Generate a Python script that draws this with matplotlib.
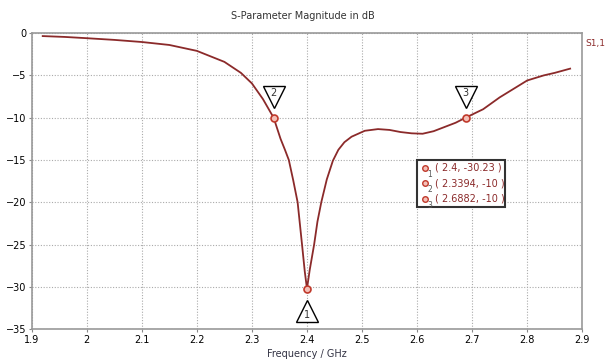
import matplotlib.pyplot as plt
from matplotlib.patches import Rectangle
from matplotlib.transforms import offset_copy

# S11 curve
freq = [1.92, 1.96, 2.0, 2.05, 2.1, 2.15, 2.2, 2.25, 2.28, 2.3, 2.32, 2.3394, 2.352, 2.36,
        2.367, 2.375, 2.383, 2.391, 2.396, 2.4, 2.405, 2.413, 2.419, 2.426, 2.436, 2.447,
        2.457, 2.468, 2.481, 2.505, 2.529, 2.55, 2.57, 2.59, 2.61, 2.63, 2.65, 2.67, 2.6882,
        2.72, 2.75, 2.78, 2.8, 2.83, 2.85, 2.878]
s11 = [-0.35, -0.45, -0.6, -0.8, -1.05, -1.4, -2.1, -3.4, -4.7, -5.95, -7.8, -10, -12.5, -13.8,
       -15, -17.4, -20, -25, -28.2, -30.23, -28.0, -25, -22.3, -20, -17.3, -15.1,
       -13.8, -12.9, -12.25, -11.55, -11.35, -11.45, -11.7, -11.85, -11.9, -11.6, -11.1, -10.6, -10,
       -9.0, -7.6, -6.4, -5.6, -5.0, -4.7, -4.2]

mark_f = [2.4, 2.3394, 2.6882]
mark_v = [-30.23, -10, -10]
mark_id = ["1", "2", "3"]

line_col = "#8b2a2a"
mark_col = "#c0392b"

fig = plt.figure(figsize=(6.05, 3.64), dpi=100)
ax = fig.add_axes([0.0524, 0.096, 0.910, 0.813])

ax.plot(freq, s11, color=line_col, lw=1.3, zorder=3)

ax.set_xlim(1.9, 2.9)
ax.set_ylim(-35, 0)
ax.set_xticks([1.9 + 0.1 * i for i in range(11)])
ax.set_xticklabels(["1.9", "2", "2.1", "2.2", "2.3", "2.4", "2.5", "2.6", "2.7", "2.8", "2.9"])
ax.set_yticks(range(-35, 1, 5))
ax.grid(True, color="#aaaaaa", ls=(0, (1, 1.5)), lw=0.8)
ax.tick_params(labelsize=7, length=2, color="#888888", pad=2)
for s in ax.spines.values():
    s.set_color("#999999")
    s.set_linewidth(1.2)

# markers with triangle flags
for f, v, n in zip(mark_f, mark_v, mark_id):
    ax.plot(f, v, "o", ms=5, mfc="#f4c0b8", mec=mark_col, mew=1.2, zorder=5)
    if n == "1":
        tr = offset_copy(ax.transData, fig=fig, x=0, y=-16, units="points")
        ax.plot(f, v, "^", ms=16, mfc="white", mec="black", mew=1.0, transform=tr, zorder=4)
        tr2 = offset_copy(ax.transData, fig=fig, x=0, y=-19, units="points")
    else:
        tr = offset_copy(ax.transData, fig=fig, x=0, y=15, units="points")
        ax.plot(f, v, "v", ms=16, mfc="white", mec="black", mew=1.0, transform=tr, zorder=4)
        tr2 = offset_copy(ax.transData, fig=fig, x=0, y=18, units="points")
    ax.text(f, v, n, transform=tr2, ha="center", va="center", fontsize=7, color="#333333", zorder=6)

# marker readout box
ax.add_patch(Rectangle((0.70, 0.412), 0.16, 0.159, transform=ax.transAxes,
                       fc="white", ec="#333333", lw=1.5, zorder=6))
for i, (f, v, n) in enumerate(zip(mark_f, mark_v, mark_id)):
    yy = 0.545 - i * 0.052
    ax.plot(0.715, yy, "o", ms=4, mfc="#f4c0b8", mec=mark_col, mew=1.0,
            transform=ax.transAxes, zorder=7, clip_on=False)
    ax.text(0.719, yy - 0.022, n, transform=ax.transAxes, fontsize=5.5,
            color="#555555", ha="left", va="center", zorder=7)
    ax.text(0.733, yy, "( %s, %s )" % (f, "%g" % v), transform=ax.transAxes,
            fontsize=7, color="#8b2a2a", ha="left", va="center", zorder=7)

fig.text(0.5, 0.957, "S-Parameter Magnitude in dB", ha="center", va="center", fontsize=7, color="#333333")
ax.set_xlabel("Frequency / GHz", fontsize=7, color="#333344", labelpad=3)
fig.text(0.967, 0.88, "S1,1", fontsize=6.5, color="#8b2a2a", ha="left", va="center")

fig.savefig("out.png", dpi=100)
